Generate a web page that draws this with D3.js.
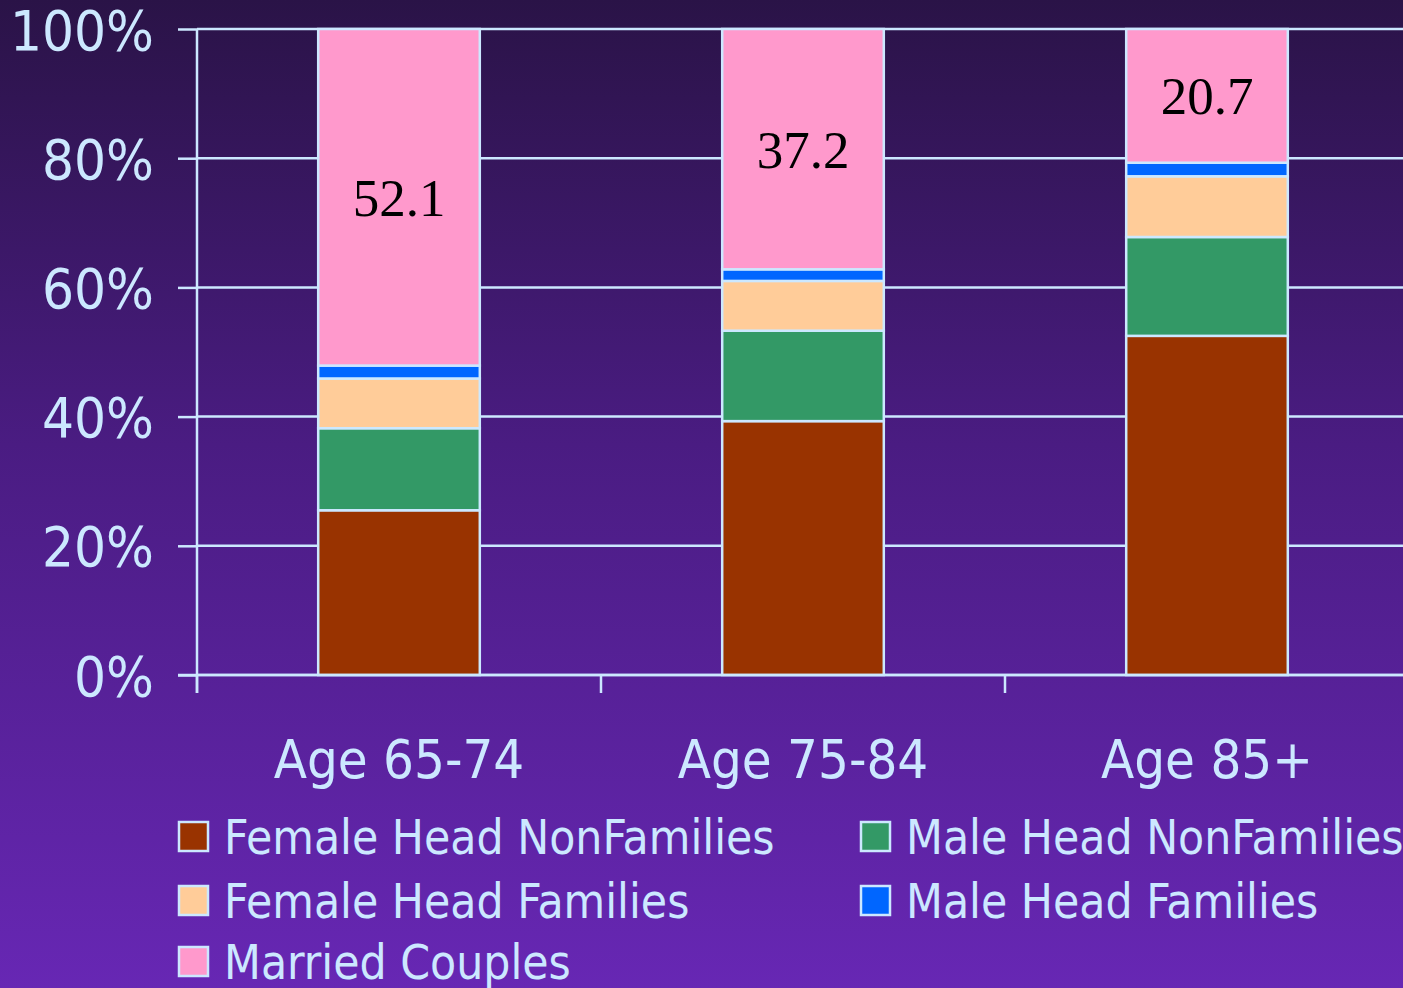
<!DOCTYPE html>
<html><head><meta charset="utf-8">
<script src="https://cdn.jsdelivr.net/npm/d3@7"></script>
<style>html,body{margin:0;padding:0;overflow:hidden;}</style>
</head><body>
<svg id="chart" width="1403" height="988"></svg>
<script>
const categories = ["Age 65-74", "Age 75-84", "Age 85+"];
const seriesNames = ["Female Head NonFamilies", "Male Head NonFamilies", "Female Head Families", "Male Head Families", "Married Couples"];
const femaleHeadNonFamilies = [25.5, 39.3, 52.5];
const maleHeadNonFamilies = [12.7, 14.0, 15.3];
const femaleHeadFamilies = [7.7, 7.7, 9.4];
const maleHeadFamilies = [2.0, 1.8, 2.1];
const marriedCouples = [52.1, 37.2, 20.7];
const yTicks = [0, 20, 40, 60, 80, 100];
const colors = ["#993300", "#339966", "#ffcc99", "#0066ff", "#ff99cc"];

(function(){
const W = 1403, H = 988;
const line = "#cce8ff";
const FONT = "'DejaVu Sans Condensed','DejaVu Sans',sans-serif";
const svg = d3.select("#chart");
const defs = svg.append("defs");
const grad = defs.append("linearGradient").attr("id","bg").attr("x1",0).attr("y1",0).attr("x2",0).attr("y2",1);
grad.append("stop").attr("offset","0%").attr("stop-color","#2a1347");
grad.append("stop").attr("offset","45%").attr("stop-color","#4a1c82");
grad.append("stop").attr("offset","100%").attr("stop-color","#6727b4");
svg.append("rect").attr("width",W).attr("height",H).attr("fill","url(#bg)");

const pLeft = 197, pRight = 1409, pTop = 29, pBottom = 675;
const x = d3.scaleBand().domain(categories).range([pLeft, pRight]).paddingInner(0.6).paddingOuter(0.3);
const xTickScale = d3.scaleBand().domain(categories).range([pLeft, pRight]);
const y = d3.scaleLinear().domain([0,100]).range([pBottom, pTop]);

const seriesData = [femaleHeadNonFamilies, maleHeadNonFamilies, femaleHeadFamilies, maleHeadFamilies, marriedCouples];
const rows = categories.map((c,i) => {
  const o = {cat:c};
  seriesNames.forEach((s,j) => o[s] = seriesData[j][i]);
  return o;
});
const stacked = d3.stack().keys(seriesNames)(rows);

svg.append("g").selectAll("line").data(yTicks).join("line")
  .attr("x1", pLeft).attr("x2", W).attr("y1", d=>y(d)).attr("y2", d=>y(d))
  .attr("stroke", line).attr("stroke-width", 2.5);

const yAxis = svg.append("g").attr("transform",`translate(${pLeft},0)`)
  .call(d3.axisLeft(y).tickValues(yTicks).tickFormat(d=>d+"%").tickSize(19).tickPadding(24));
yAxis.select(".domain").remove();
yAxis.append("line").attr("x1",0).attr("x2",0).attr("y1",pTop).attr("y2",pBottom+18).attr("stroke",line).attr("stroke-width",2.5);
yAxis.selectAll(".tick line").attr("stroke", line).attr("stroke-width",2.5);
yAxis.selectAll(".tick text").attr("fill", line).attr("font-size", 56)
  .attr("font-family",FONT).attr("dy","0.36em");

const bounds = categories.map(c => xTickScale(c));
svg.append("g").selectAll("line").data(bounds).join("line")
  .attr("x1", d=>d).attr("x2", d=>d).attr("y1", pBottom).attr("y2", pBottom+18)
  .attr("stroke", line).attr("stroke-width", 2.5);

const layers = svg.append("g").selectAll("g").data(stacked).join("g")
  .attr("fill", (d,i)=>colors[i]);
layers.selectAll("rect").data(d=>d).join("rect")
  .attr("x", d=>x(d.data.cat)).attr("width", x.bandwidth())
  .attr("y", d=>y(d[1])).attr("height", d=>y(d[0])-y(d[1]))
  .attr("stroke", line).attr("stroke-width", 2.5);

svg.append("line").attr("x1", pLeft-19).attr("x2", W).attr("y1", pBottom).attr("y2", pBottom)
  .attr("stroke", line).attr("stroke-width", 2.5);

const top5 = stacked[4];
svg.append("g").selectAll("text").data(top5).join("text")
  .attr("x", d=>x(d.data.cat)+x.bandwidth()/2)
  .attr("y", d=>(y(d[0])+y(d[1]))/2)
  .attr("dy","0.35em").attr("text-anchor","middle")
  .attr("font-family","'Liberation Serif','Times New Roman',serif").attr("font-size",53)
  .attr("fill","#000").text(d=>d.data["Married Couples"].toFixed(1));

svg.append("g").selectAll("text").data(categories).join("text")
  .attr("x", d=>x(d)+x.bandwidth()/2).attr("y", 778)
  .attr("text-anchor","middle").attr("fill", line).attr("font-size", 54)
  .attr("font-family",FONT)
  .text(d=>d);

const legendPos = [[178,837],[860,837],[178,901],[860,901],[178,962]];
const lg = svg.append("g").selectAll("g").data(seriesNames).join("g")
  .attr("transform",(d,i)=>`translate(${legendPos[i][0]},${legendPos[i][1]})`);
lg.append("rect").attr("x",1).attr("y",-15).attr("width",29).attr("height",29)
  .attr("fill",(d,i)=>colors[i]).attr("stroke",line).attr("stroke-width",2.5);
lg.append("text").attr("x",46).attr("y",0).attr("dy","0.35em")
  .attr("fill",line).attr("font-size",47.5)
  .attr("font-family",FONT)
  .text(d=>d);
})();
</script>
</body></html>
